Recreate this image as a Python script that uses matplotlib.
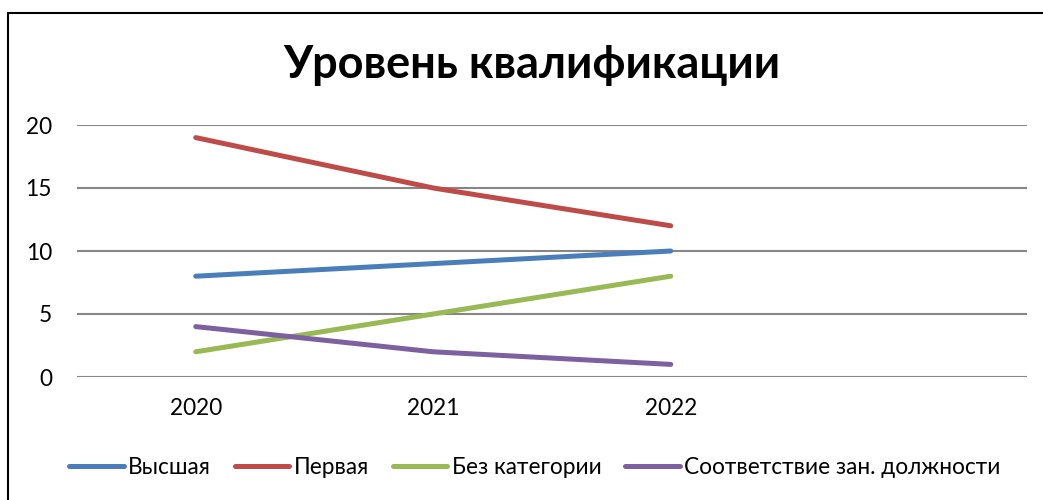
import matplotlib
matplotlib.use("Agg")
import matplotlib.pyplot as plt
from matplotlib.patches import Rectangle

categories = ["2020", "2021", "2022", ""]
series_names = ["Высшая", "Первая", "Без категории", "Соответствие зан. должности"]
vysshaya = [8, 9, 10]
pervaya = [19, 15, 12]
bez_kat = [2, 5, 8]
sootv = [4, 2, 1]
colors = ["#4A7EBB", "#BE4B48", "#98B954", "#7D60A0"]
yticks = [0, 5, 10, 15, 20]

plt.rcParams['font.family'] = ['Lato', 'DejaVu Sans']

fig = plt.figure(figsize=(10.43, 5.0), dpi=100)
ax = fig.add_axes([77/1043, 1-377/500, (1027-77)/1043, (377-125)/500])

x = list(range(len(categories)))
for vals, name, c in zip([vysshaya, pervaya, bez_kat, sootv], series_names, colors):
    ax.plot(x[:len(vals)], vals, color=c, lw=3.6, solid_capstyle='round', label=name)

ax.set_xlim(-0.5, 3.5)
ax.set_ylim(0, 20)
ax.set_yticks(yticks)
ax.set_yticklabels([str(v) for v in yticks], fontsize=16.3)
ax.set_xticks(x)
ax.set_xticklabels(categories, fontsize=16.3)
ax.tick_params(axis='both', length=0)
ax.tick_params(axis='y', pad=18)
ax.tick_params(axis='x', pad=15)
for s in ax.spines.values():
    s.set_visible(False)
ax.grid(axis='y', color='#868686', lw=1.5)
ax.set_axisbelow(True)

fig.text(532/1043, 1-65/500, "Уровень квалификации", fontsize=32.5, fontweight='bold',
         ha='center', va='center')

leg = fig.legend(loc='center', bbox_to_anchor=(535/1043, 1-467/500), ncol=4, frameon=False,
                 fontsize=16.3, handlelength=2.4, handletextpad=0.2, columnspacing=1.05)

fig.patches.append(Rectangle((8/1043, -0.1), 1.2, 1-13/500+0.1, transform=fig.transFigure,
                             fill=False, edgecolor='black', lw=1.5))

fig.savefig("out.png", dpi=100)
